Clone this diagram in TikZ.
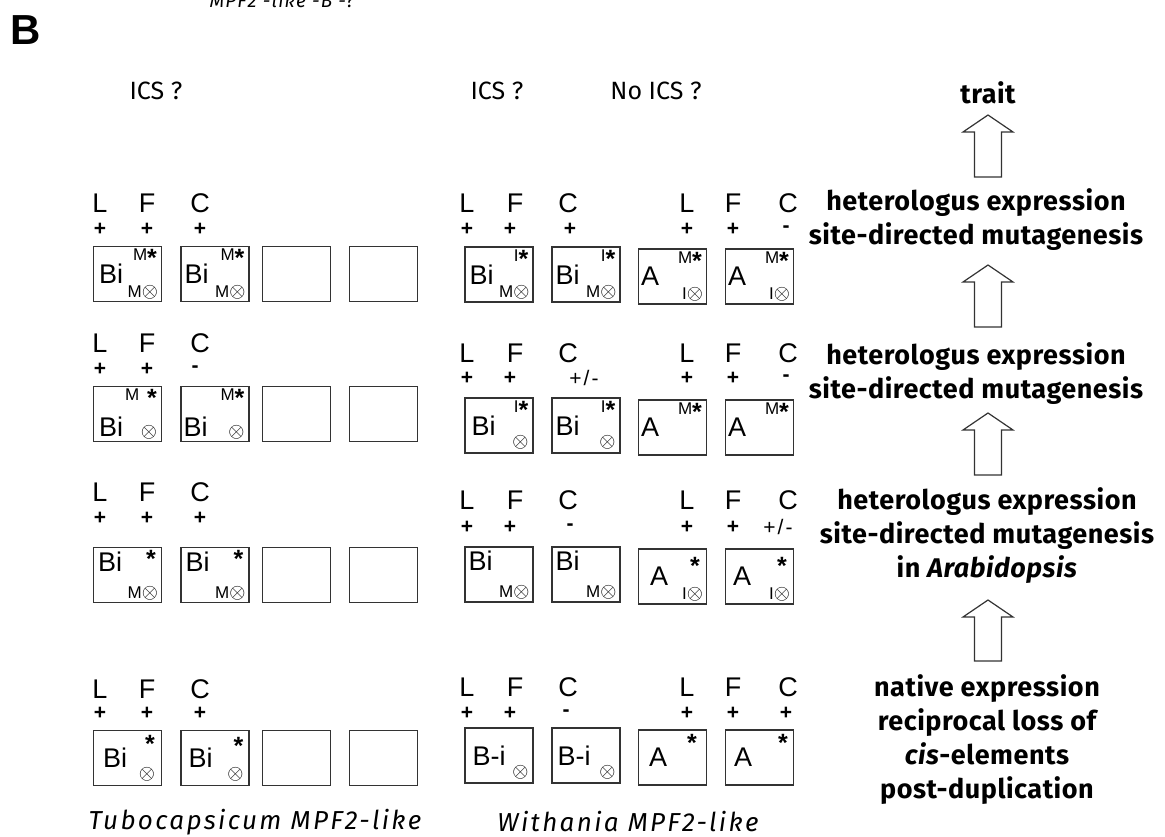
\documentclass[tikz,border=0pt]{standalone}
\usepackage{fontspec}
\setmainfont{Liberation Sans}
\newfontfamily\stepfont{Fira Sans}
\usetikzlibrary{positioning}
\newcommand\starmk{\raisebox{-6pt}{\fontsize{25}{25}\selectfont\bfseries *}}
\newcommand\lossmk{{\fontsize{20}{20}\selectfont$\otimes$}}

\begin{document}
\begin{tikzpicture}[x=1pt,y=-1pt]
\tikzset{
  genebox/.style={draw=black!80,line width=1.2pt,minimum width=68pt,minimum height=55pt,inner sep=0pt},
  boxmain/.style={inner sep=0pt,font=\fontsize{27}{28}\selectfont},
  boxmark/.style={inner sep=0pt,font=\fontsize{17}{18}\selectfont},
  tisslabel/.style={inner sep=0pt,font=\fontsize{27}{28}\selectfont},
  tisssign/.style={inner sep=0pt,font=\bfseries\fontsize{21}{22}\selectfont},
  tissmixed/.style={inner sep=0pt,font=\fontsize{21}{22}\selectfont},
  colhead/.style={inner sep=0pt,font=\stepfont\fontsize{25}{28}\selectfont},
  steptext/.style={inner sep=0pt,align=center,font={\stepfont\bfseries\fontsize{27}{34}\selectfont\addfontfeatures{LetterSpace=2}}},
  speciestext/.style={inner sep=0pt,font={\stepfont\itshape\fontsize{26}{28}\selectfont\addfontfeatures{LetterSpace=9}}},
  blockarrow/.style={draw=black!80,line width=1.2pt,line join=miter}
}
\useasboundingbox (0,0) rectangle (1165,837);
\node[inner sep=0pt,font=\bfseries\fontsize{42}{44}\selectfont] (n_panel) at (26,30) {B};
\node[inner sep=0pt,anchor=base,font={\stepfont\itshape\fontsize{19}{20}\selectfont\addfontfeatures{LetterSpace=6}}] (n_cut) at (282,8) {MPF2 -like -B -?};
\node[colhead] (n_hT) at (156,91) {ICS ?};
\node[colhead] (n_hW) at (497,91) {ICS ?};
\node[colhead] (n_hA) at (656,91) {No ICS ?};
\node[steptext] (n_trait) at (988,93) {trait};
\node[tisslabel] (n_t1L) at (100,203) {L};
\node[tisslabel] (n_t1F) at (147,203) {F};
\node[tisslabel] (n_t1C) at (200,203) {C};
\node[tisssign] (n_t1Ls) at (100,229) {+};
\node[tisssign] (n_t1Fs) at (147,229) {+};
\node[tisssign] (n_t1Cs) at (200,229) {+};
\node[genebox] (n_t1a) at (127.5,274) {};
\node[boxmain,right=6pt of n_t1a.west] (n_t1am) {Bi};
\node[boxmark,below left=3pt and 5pt of n_t1a.north east] (n_t1au) {M\starmk};
\node[boxmark,above left=3pt and 4pt of n_t1a.south east] (n_t1al) {M\lossmk};
\node[genebox] (n_t1b) at (215,274) {};
\node[boxmain,right=4pt of n_t1b.west] (n_t1bm) {Bi};
\node[boxmark,below left=3pt and 5pt of n_t1b.north east] (n_t1bu) {M\starmk};
\node[boxmark,above left=3pt and 4pt of n_t1b.south east] (n_t1bl) {M\lossmk};
\node[genebox] (n_t1c) at (296.5,274) {};
\node[genebox] (n_t1d) at (383.5,274) {};
\node[tisslabel] (n_w1L) at (467,203) {L};
\node[tisslabel] (n_w1F) at (515,203) {F};
\node[tisslabel] (n_w1C) at (568,203) {C};
\node[tisslabel] (n_w1L2) at (687,203) {L};
\node[tisslabel] (n_w1F2) at (733,203) {F};
\node[tisslabel] (n_w1C2) at (788,203) {C};
\node[tisssign] (n_w1Ls) at (467,229) {+};
\node[tisssign] (n_w1Fs) at (510,229) {+};
\node[tisssign] (n_w1Cs) at (570,229) {+};
\node[tisssign] (n_w1L2s) at (687,229) {+};
\node[tisssign] (n_w1F2s) at (733,229) {+};
\node[tisssign] (n_w1C2s) at (786,229) {-};
\node[genebox] (n_w1a) at (499,274.5) {};
\node[boxmain,right=5pt of n_w1a.west] (n_w1am) {Bi};
\node[boxmark,below left=3pt and 5pt of n_w1a.north east] (n_w1au) {I\starmk};
\node[boxmark,above left=3pt and 4pt of n_w1a.south east] (n_w1al) {M\lossmk};
\node[genebox] (n_w1b) at (586,274.5) {};
\node[boxmain,right=4pt of n_w1b.west] (n_w1bm) {Bi};
\node[boxmark,below left=3pt and 5pt of n_w1b.north east] (n_w1bu) {I\starmk};
\node[boxmark,above left=3pt and 4pt of n_w1b.south east] (n_w1bl) {M\lossmk};
\node[genebox] (n_w1c) at (672.5,276.5) {};
\node[boxmain,right=3pt of n_w1c.west] (n_w1cm) {A};
\node[boxmark,below left=3pt and 5pt of n_w1c.north east] (n_w1cu) {M\starmk};
\node[boxmark,above left=3pt and 4pt of n_w1c.south east] (n_w1cl) {I\lossmk};
\node[genebox] (n_w1d) at (759.5,276.5) {};
\node[boxmain,right=3pt of n_w1d.west] (n_w1dm) {A};
\node[boxmark,below left=3pt and 5pt of n_w1d.north east] (n_w1du) {M\starmk};
\node[boxmark,above left=3pt and 4pt of n_w1d.south east] (n_w1dl) {I\lossmk};
\node[tisslabel] (n_t2L) at (100,343) {L};
\node[tisslabel] (n_t2F) at (147,343) {F};
\node[tisslabel] (n_t2C) at (200,343) {C};
\node[tisssign] (n_t2Ls) at (100,369) {+};
\node[tisssign] (n_t2Fs) at (147,369) {+};
\node[tisssign] (n_t2Cs) at (195,369) {-};
\node[genebox] (n_t2a) at (127.5,414) {};
\node[boxmain,above right=5pt and 6pt of n_t2a.south west] (n_t2am) {Bi};
\node[boxmark,below left=3pt and 5pt of n_t2a.north east] (n_t2au) {M\hspace{8pt}\starmk};
\node[boxmark,above left=3pt and 5pt of n_t2a.south east] (n_t2al) {\lossmk};
\node[genebox] (n_t2b) at (215,414) {};
\node[boxmain,above right=5pt and 3pt of n_t2b.south west] (n_t2bm) {Bi};
\node[boxmark,below left=3pt and 5pt of n_t2b.north east] (n_t2bu) {M\starmk};
\node[boxmark,above left=3pt and 5pt of n_t2b.south east] (n_t2bl) {\lossmk};
\node[genebox] (n_t2c) at (296.5,414) {};
\node[genebox] (n_t2d) at (383.5,414) {};
\node[tisslabel] (n_w2L) at (467,353) {L};
\node[tisslabel] (n_w2F) at (515,353) {F};
\node[tisslabel] (n_w2C) at (568,353) {C};
\node[tisslabel] (n_w2L2) at (687,353) {L};
\node[tisslabel] (n_w2F2) at (733,353) {F};
\node[tisslabel] (n_w2C2) at (788,353) {C};
\node[tisssign] (n_w2Ls) at (467,378) {+};
\node[tisssign] (n_w2Fs) at (510,378) {+};
\node[tissmixed] (n_w2Cs) at (584,378) {+\hspace{2pt}/\hspace{2pt}-};
\node[tisssign] (n_w2L2s) at (687,378) {+};
\node[tisssign] (n_w2F2s) at (733,378) {+};
\node[tisssign] (n_w2C2s) at (786,378) {-};
\node[genebox] (n_w2a) at (499,425.5) {};
\node[boxmain,right=7pt of n_w2a.west] (n_w2am) {Bi};
\node[boxmark,below left=3pt and 5pt of n_w2a.north east] (n_w2au) {I\starmk};
\node[boxmark,above left=4pt and 5pt of n_w2a.south east] (n_w2al) {\lossmk};
\node[genebox] (n_w2b) at (586,425.5) {};
\node[boxmain,right=4pt of n_w2b.west] (n_w2bm) {Bi};
\node[boxmark,below left=3pt and 5pt of n_w2b.north east] (n_w2bu) {I\starmk};
\node[boxmark,above left=4pt and 5pt of n_w2b.south east] (n_w2bl) {\lossmk};
\node[genebox] (n_w2c) at (672.5,427.5) {};
\node[boxmain,right=3pt of n_w2c.west] (n_w2cm) {A};
\node[boxmark,below left=3pt and 5pt of n_w2c.north east] (n_w2cu) {M\starmk};
\node[genebox] (n_w2d) at (759.5,427.5) {};
\node[boxmain,right=3pt of n_w2d.west] (n_w2dm) {A};
\node[boxmark,below left=3pt and 5pt of n_w2d.north east] (n_w2du) {M\starmk};
\node[tisslabel] (n_t3L) at (100,492) {L};
\node[tisslabel] (n_t3F) at (147,492) {F};
\node[tisslabel] (n_t3C) at (200,492) {C};
\node[tisssign] (n_t3Ls) at (100,518) {+};
\node[tisssign] (n_t3Fs) at (147,518) {+};
\node[tisssign] (n_t3Cs) at (200,518) {+};
\node[genebox] (n_t3a) at (127.5,575) {};
\node[boxmain,below right=5pt and 5pt of n_t3a.north west] (n_t3am) {Bi};
\node[boxmark,below left=3pt and 6pt of n_t3a.north east] (n_t3au) {\starmk};
\node[boxmark,above left=3pt and 4pt of n_t3a.south east] (n_t3al) {M\lossmk};
\node[genebox] (n_t3b) at (215,575) {};
\node[boxmain,below right=5pt and 5pt of n_t3b.north west] (n_t3bm) {Bi};
\node[boxmark,below left=3pt and 6pt of n_t3b.north east] (n_t3bu) {\starmk};
\node[boxmark,above left=3pt and 4pt of n_t3b.south east] (n_t3bl) {M\lossmk};
\node[genebox] (n_t3c) at (296.5,575) {};
\node[genebox] (n_t3d) at (383.5,575) {};
\node[tisslabel] (n_w3L) at (467,500) {L};
\node[tisslabel] (n_w3F) at (515,500) {F};
\node[tisslabel] (n_w3C) at (568,500) {C};
\node[tisslabel] (n_w3L2) at (687,500) {L};
\node[tisslabel] (n_w3F2) at (733,500) {F};
\node[tisslabel] (n_w3C2) at (788,500) {C};
\node[tisssign] (n_w3Ls) at (467,527) {+};
\node[tisssign] (n_w3Fs) at (510,527) {+};
\node[tisssign] (n_w3Cs) at (570,527) {-};
\node[tisssign] (n_w3L2s) at (687,527) {+};
\node[tisssign] (n_w3F2s) at (733,527) {+};
\node[tissmixed] (n_w3C2s) at (778,527) {+\hspace{2pt}/\hspace{2pt}-};
\node[genebox] (n_w3a) at (499,574.5) {};
\node[boxmain,below right=4pt and 4pt of n_w3a.north west] (n_w3am) {Bi};
\node[boxmark,above left=3pt and 4pt of n_w3a.south east] (n_w3al) {M\lossmk};
\node[genebox] (n_w3b) at (586,574.5) {};
\node[boxmain,below right=4pt and 4pt of n_w3b.north west] (n_w3bm) {Bi};
\node[boxmark,above left=3pt and 4pt of n_w3b.south east] (n_w3bl) {M\lossmk};
\node[genebox] (n_w3c) at (672.5,576.5) {};
\node[boxmain,right=12pt of n_w3c.west] (n_w3cm) {A};
\node[boxmark,below left=9pt and 7pt of n_w3c.north east] (n_w3cu) {\starmk};
\node[boxmark,above left=3pt and 4pt of n_w3c.south east] (n_w3cl) {I\lossmk};
\node[genebox] (n_w3d) at (759.5,576.5) {};
\node[boxmain,right=8pt of n_w3d.west] (n_w3dm) {A};
\node[boxmark,below left=9pt and 7pt of n_w3d.north east] (n_w3du) {\starmk};
\node[boxmark,above left=3pt and 4pt of n_w3d.south east] (n_w3dl) {I\lossmk};
\node[tisslabel] (n_t4L) at (100,689) {L};
\node[tisslabel] (n_t4F) at (147,689) {F};
\node[tisslabel] (n_t4C) at (200,689) {C};
\node[tisssign] (n_t4Ls) at (100,713) {+};
\node[tisssign] (n_t4Fs) at (147,713) {+};
\node[tisssign] (n_t4Cs) at (200,713) {+};
\node[genebox] (n_t4a) at (127.5,758) {};
\node[boxmain,right=10pt of n_t4a.west] (n_t4am) {Bi};
\node[boxmark,below left=5pt and 7pt of n_t4a.north east] (n_t4au) {\starmk};
\node[boxmark,above left=5pt and 7pt of n_t4a.south east] (n_t4al) {\lossmk};
\node[genebox] (n_t4b) at (215,758) {};
\node[boxmain,right=8pt of n_t4b.west] (n_t4bm) {Bi};
\node[boxmark,below left=7pt and 6pt of n_t4b.north east] (n_t4bu) {\starmk};
\node[boxmark,above left=5pt and 6pt of n_t4b.south east] (n_t4bl) {\lossmk};
\node[genebox] (n_t4c) at (296.5,758) {};
\node[genebox] (n_t4d) at (383.5,758) {};
\node[tisslabel] (n_w4L) at (467,687) {L};
\node[tisslabel] (n_w4F) at (515,687) {F};
\node[tisslabel] (n_w4C) at (568,687) {C};
\node[tisslabel] (n_w4L2) at (687,687) {L};
\node[tisslabel] (n_w4F2) at (733,687) {F};
\node[tisslabel] (n_w4C2) at (788,687) {C};
\node[tisssign] (n_w4Ls) at (467,713) {+};
\node[tisssign] (n_w4Fs) at (510,713) {+};
\node[tisssign] (n_w4Cs) at (566,713) {-};
\node[tisssign] (n_w4L2s) at (687,713) {+};
\node[tisssign] (n_w4F2s) at (733,713) {+};
\node[tisssign] (n_w4C2s) at (786,713) {+};
\node[genebox] (n_w4a) at (499,755.5) {};
\node[boxmain,right=8pt of n_w4a.west] (n_w4am) {B-i};
\node[boxmark,above left=4pt and 5pt of n_w4a.south east] (n_w4al) {\lossmk};
\node[genebox] (n_w4b) at (586,755.5) {};
\node[boxmain,right=6pt of n_w4b.west] (n_w4bm) {B-i};
\node[boxmark,above left=4pt and 5pt of n_w4b.south east] (n_w4bl) {\lossmk};
\node[genebox] (n_w4c) at (672.5,757.5) {};
\node[boxmain,right=11pt of n_w4c.west] (n_w4cm) {A};
\node[boxmark,below left=5pt and 10pt of n_w4c.north east] (n_w4cu) {\starmk};
\node[genebox] (n_w4d) at (759.5,757.5) {};
\node[boxmain,right=9pt of n_w4d.west] (n_w4dm) {A};
\node[boxmark,below left=5pt and 6pt of n_w4d.north east] (n_w4du) {\starmk};
\node[speciestext] (n_capT) at (255,822) {Tubocapsicum MPF2-like};
\node[speciestext] (n_capW) at (628,822) {Withania MPF2-like};
\node[steptext] (n_s1) at (976,220) {heterologus expression\\site-directed mutagenesis};
\node[steptext] (n_s2) at (976,373.5) {heterologus expression\\site-directed mutagenesis};
\node[steptext] (n_s3) at (987,536) {heterologus expression\\site-directed mutagenesis\\in \textit{Arabidopsis}};
\node[steptext] (n_s4) at (987,740) {native expression\\reciprocal loss of\\\textit{cis}-elements\\post-duplication};
\coordinate (n_a1) at (988,177);
\coordinate (n_a2) at (988,327);
\coordinate (n_a3) at (988,475);
\coordinate (n_a4) at (988,661);
\draw[blockarrow] (n_a1) ++(-13.5,0) -- ++(0,-45) -- ++(-11.5,0) -- ++(25,-17) -- ++(25,17) -- ++(-11.5,0) -- ++(0,45) -- cycle;
\draw[blockarrow] (n_a2) ++(-13.5,0) -- ++(0,-45) -- ++(-11.5,0) -- ++(25,-17) -- ++(25,17) -- ++(-11.5,0) -- ++(0,45) -- cycle;
\draw[blockarrow] (n_a3) ++(-13.5,0) -- ++(0,-45) -- ++(-11.5,0) -- ++(25,-17) -- ++(25,17) -- ++(-11.5,0) -- ++(0,45) -- cycle;
\draw[blockarrow] (n_a4) ++(-13.5,0) -- ++(0,-44) -- ++(-11.5,0) -- ++(25,-17) -- ++(25,17) -- ++(-11.5,0) -- ++(0,44) -- cycle;
\end{tikzpicture}
\end{document}
